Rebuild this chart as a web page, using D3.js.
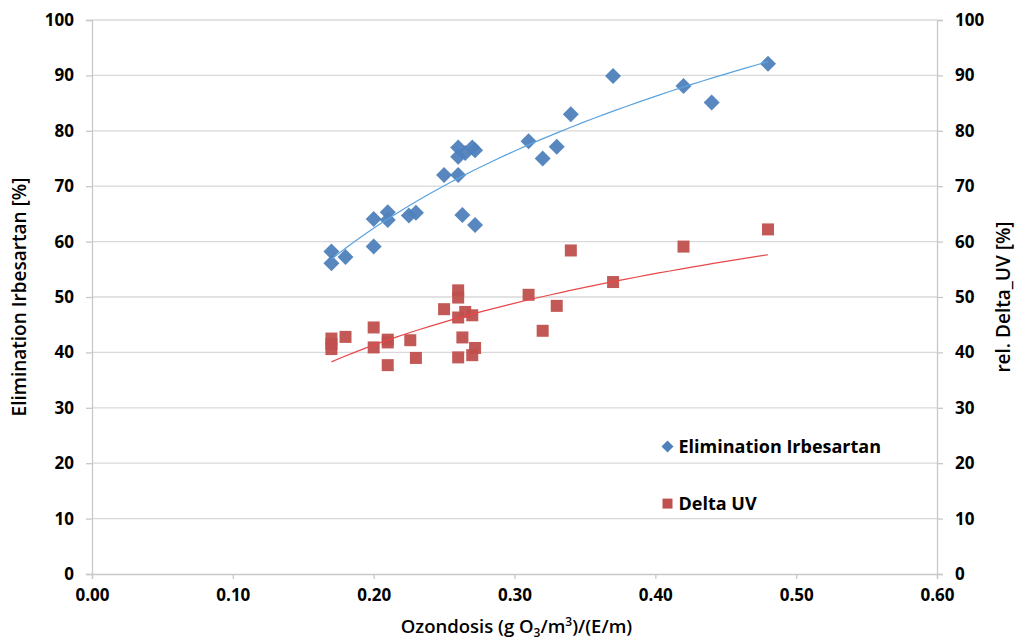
<!DOCTYPE html>
<html>
<head>
<meta charset="utf-8">
<script src="https://cdn.jsdelivr.net/npm/d3@7"></script>
<style>
  body { margin: 0; background: #fff; }
  text { font-family: "Open Sans", "Liberation Sans", sans-serif; fill: #000; }
</style>
</head>
<body>
<div id="chart"></div>
<script>
// dose values (g O3/m3)/(E/m) and measured values
const elimDose = [0.17, 0.17, 0.18, 0.20, 0.20, 0.21, 0.21, 0.225, 0.23, 0.25, 0.26, 0.26, 0.26, 0.265, 0.27, 0.272, 0.263, 0.272, 0.31, 0.32, 0.33, 0.34, 0.37, 0.42, 0.44, 0.48];
const elimValue = [58.2, 56.1, 57.2, 64.1, 59.1, 65.3, 63.9, 64.7, 65.2, 72.0, 72.0, 75.3, 77.0, 76.0, 77.0, 76.5, 64.8, 63.0, 78.1, 75.0, 77.1, 83.0, 89.9, 88.1, 85.1, 92.1];

const uvDose = [0.17, 0.17, 0.17, 0.18, 0.20, 0.20, 0.21, 0.21, 0.21, 0.226, 0.23, 0.25, 0.26, 0.26, 0.26, 0.26, 0.263, 0.265, 0.27, 0.27, 0.272, 0.31, 0.32, 0.33, 0.34, 0.37, 0.42, 0.48];
const uvValue = [42.5, 41.5, 40.6, 42.8, 44.5, 40.9, 42.3, 41.8, 37.7, 42.2, 39.0, 47.8, 51.2, 49.9, 46.3, 39.1, 42.7, 47.3, 46.7, 39.5, 40.8, 50.4, 43.9, 48.4, 58.4, 52.7, 59.1, 62.2];

const xTicks = [0, 0.1, 0.2, 0.3, 0.4, 0.5, 0.6];
const yTicks = [0, 10, 20, 30, 40, 50, 60, 70, 80, 90, 100];
const seriesNames = ["Elimination Irbesartan", "Delta UV"];

const W = 1020, H = 640;
const margin = { top: 20, right: 83, bottom: 66, left: 92 };
const width = W - margin.left - margin.right,
  height = H - margin.top - margin.bottom;

const svg = d3.select("#chart").append("svg")
  .attr("width", W)
  .attr("height", H);

const g = svg.append("g")
  .attr("transform", "translate(" + margin.left + "," + margin.top + ")");

const x = d3.scaleLinear().domain([0, 0.6]).range([0, width]);
const y = d3.scaleLinear().domain([0, 100]).range([height, 0]);

const blue = "#4F81BD", red = "#C0504D";

// gridlines
g.selectAll(".grid").data(yTicks.slice(1)).enter().append("line")
  .attr("x1", 0).attr("x2", width)
  .attr("y1", d => y(d)).attr("y2", d => y(d))
  .attr("stroke", "#d9d9d9").attr("stroke-width", 1.3);

// axes
const axisStyle = sel => {
  sel.select(".domain").attr("stroke", "#c8c8c8").attr("stroke-width", 1.3);
  sel.selectAll(".tick line").attr("stroke", "#c8c8c8").attr("stroke-width", 1.3);
  sel.selectAll(".tick text").attr("font-size", 17).attr("font-weight", "bold")
    .style("font-family", "'Open Sans', sans-serif").attr("fill", "#000");
};

g.append("g").attr("transform", "translate(0," + height + ")")
  .call(d3.axisBottom(x).tickValues(xTicks).tickFormat(d3.format(".2f")).tickSizeOuter(0).tickSize(5).tickPadding(10))
  .call(axisStyle);

g.append("g")
  .call(d3.axisLeft(y).tickValues(yTicks).tickSizeOuter(0).tickSize(6).tickPadding(12))
  .call(axisStyle);

g.append("g").attr("transform", "translate(" + width + ",0)")
  .call(d3.axisRight(y).tickValues(yTicks).tickSizeOuter(0).tickSize(6).tickPadding(12))
  .call(axisStyle);

// logarithmic trendlines (least squares on ln x)
function logFit(xs, ys) {
  const lx = xs.map(Math.log);
  const mx = d3.mean(lx), my = d3.mean(ys);
  let sxy = 0, sxx = 0;
  lx.forEach((v, i) => { sxy += (v - mx) * (ys[i] - my); sxx += (v - mx) * (v - mx); });
  const b = sxy / sxx, a = my - b * mx;
  return v => a + b * Math.log(v);
}

function trend(xs, ys, color) {
  const f = logFit(xs, ys);
  const [lo, hi] = d3.extent(xs);
  const pts = d3.range(0, 41).map(i => lo + (hi - lo) * i / 40);
  g.append("path")
    .datum(pts)
    .attr("fill", "none")
    .attr("stroke", color)
    .attr("stroke-width", 1.2)
    .attr("d", d3.line().x(d => x(d)).y(d => y(f(d))));
}

// points
const uvData = uvDose.map((d, i) => ({ x: d, y: uvValue[i] }));
const elimData = elimDose.map((d, i) => ({ x: d, y: elimValue[i] }));

g.selectAll(".sq").data(uvData).enter().append("rect")
  .attr("x", d => x(d.x) - 6).attr("y", d => y(d.y) - 6)
  .attr("width", 12).attr("height", 12)
  .attr("fill", red).attr("opacity", 0.95);

g.selectAll(".dia").data(elimData).enter().append("path")
  .attr("transform", d => "translate(" + x(d.x) + "," + y(d.y) + ")")
  .attr("d", "M0,-8L8,0L0,8L-8,0Z")
  .attr("fill", blue).attr("opacity", 0.95);

trend(elimDose, elimValue, "#5BA3DE");
trend(uvDose, uvValue, "#E8484A");

// legend
const legend = g.append("g").attr("transform", "translate(" + (x(0.42) - 16) + "," + y(23) + ")");
legend.append("path").attr("d", "M0,-6L6,0L0,6L-6,0Z").attr("fill", blue);
legend.append("text").text(seriesNames[0]).attr("x", 11).attr("y", 6.5)
  .attr("font-size", 18).attr("font-weight", "bold");
legend.append("rect").attr("x", -5).attr("y", 52).attr("width", 10).attr("height", 10).attr("fill", red);
legend.append("text").text(seriesNames[1]).attr("x", 11).attr("y", 63.5)
  .attr("font-size", 18).attr("font-weight", "bold");

// axis titles
const xt = svg.append("text").attr("x", margin.left + width / 2 + 2).attr("y", 633)
  .attr("text-anchor", "middle").attr("font-size", 18.5).attr("font-weight", 600);
xt.append("tspan").text("Ozondosis (g O");
xt.append("tspan").text("3").attr("font-size", 12).attr("dy", 4);
xt.append("tspan").text("/m").attr("dy", -4);
xt.append("tspan").text("3").attr("font-size", 12).attr("dy", -7);
xt.append("tspan").text(")/(E/m)").attr("dy", 7);

svg.append("text").text("Elimination Irbesartan [%]")
  .attr("transform", "translate(26," + (margin.top + height / 2) + ") rotate(-90)")
  .attr("text-anchor", "middle").attr("font-size", 19).attr("font-weight", 600);

svg.append("text").text("rel. Delta_UV [%]")
  .attr("transform", "translate(1010," + (margin.top + height / 2) + ") rotate(-90)")
  .attr("text-anchor", "middle").attr("font-size", 19).attr("font-weight", 600);
</script>
</body>
</html>
